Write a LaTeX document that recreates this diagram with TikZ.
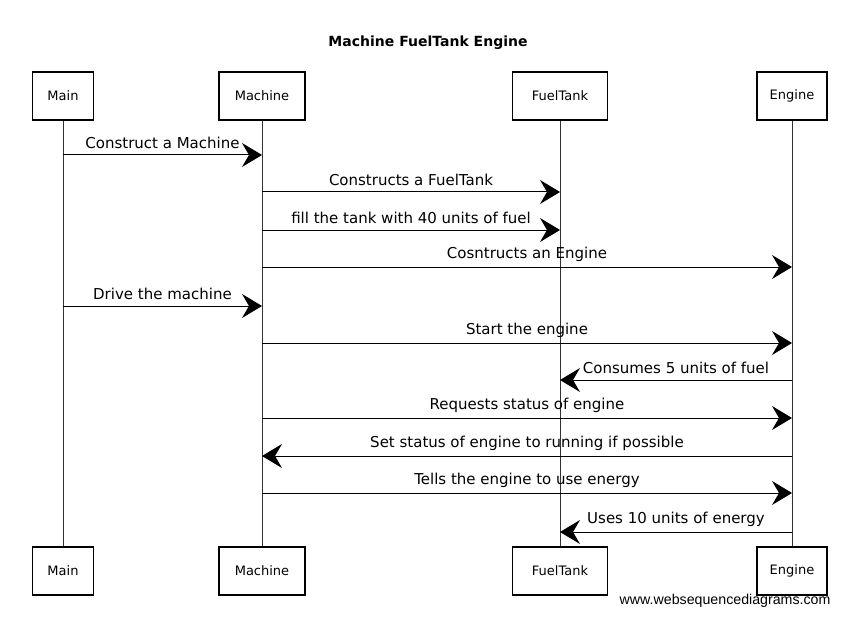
\documentclass[tikz,border=0pt]{standalone}
\usepackage{fontspec}
\setmainfont{DejaVu Sans}
\newfontfamily\wsdfont{Liberation Sans}
\usepackage{tikz}
\usetikzlibrary{arrows.meta, positioning, calc}

\begin{document}
\begin{tikzpicture}[
    x=1pt, y=-1pt,
    actor/.style={rectangle, draw, line width=1.2pt, minimum height=48pt, inner xsep=4pt, font=\fontsize{13}{15}\selectfont},
    lifeline/.style={line width=0.7pt, black!80},
    msg/.style={-{Stealth[length=20pt, width=24pt, inset=7pt]}, line width=1pt},
    lbl/.style={above=2pt, midway, font=\fontsize{15}{17}\selectfont}
]
\useasboundingbox (0,0) rectangle (852,623);

% Title
\node[font=\bfseries\fontsize{14}{16}\selectfont] (title) at (428,43) {Machine FuelTank Engine};

% Participants (top)
\node[actor, minimum width=61pt] (main) at (63,96) {Main};
\node[actor, minimum width=86pt] (machine) at (262,96) {Machine};
\node[actor, minimum width=95pt] (fueltank) at (560,96) {FuelTank};
\node[actor, minimum width=70pt] (engine) at (792,96) {Engine};

% Participants (bottom)
\node[actor, minimum width=61pt] (mainB) at (63,571) {Main};
\node[actor, minimum width=86pt] (machineB) at (262,571) {Machine};
\node[actor, minimum width=95pt] (fueltankB) at (560,571) {FuelTank};
\node[actor, minimum width=70pt] (engineB) at (792,571) {Engine};

% Lifelines
\draw[lifeline] (main) -- (mainB);
\draw[lifeline] (machine) -- (machineB);
\draw[lifeline] (fueltank) -- (fueltankB);
\draw[lifeline] (engine) -- (engineB);

% Message rows
\coordinate (m1) at (0,155);
\coordinate (m2) at (0,192);
\coordinate (m3) at (0,230);
\coordinate (m4) at (0,267);
\coordinate (m5) at (0,306);
\coordinate (m6) at (0,343);
\coordinate (m7) at (0,380);
\coordinate (m8) at (0,418);
\coordinate (m9) at (0,456);
\coordinate (m10) at (0,493);
\coordinate (m11) at (0,532);

% Messages
\draw[msg] (main |- m1) -- node[lbl] {Construct a Machine} (machine |- m1);
\draw[msg] (machine |- m2) -- node[lbl] {Constructs a FuelTank} (fueltank |- m2);
\draw[msg] (machine |- m3) -- node[lbl] {fill the tank with 40 units of fuel} (fueltank |- m3);
\draw[msg] (machine |- m4) -- node[lbl] {Cosntructs an Engine} (engine |- m4);
\draw[msg] (main |- m5) -- node[lbl] {Drive the machine} (machine |- m5);
\draw[msg] (machine |- m6) -- node[lbl] {Start the engine} (engine |- m6);
\draw[msg] (engine |- m7) -- node[lbl] {Consumes 5 units of fuel} (fueltank |- m7);
\draw[msg] (machine |- m8) -- node[lbl] {Requests status of engine} (engine |- m8);
\draw[msg] (engine |- m9) -- node[lbl] {Set status of engine to running if possible} (machine |- m9);
\draw[msg] (machine |- m10) -- node[lbl] {Tells the engine to use energy} (engine |- m10);
\draw[msg] (engine |- m11) -- node[lbl] {Uses 10 units of energy} (fueltank |- m11);

% Watermark
\node[anchor=east, font=\wsdfont\fontsize{14.2}{16}\selectfont] (wsd) at (834,601) {www.websequencediagrams.com};

\end{tikzpicture}
\end{document}
